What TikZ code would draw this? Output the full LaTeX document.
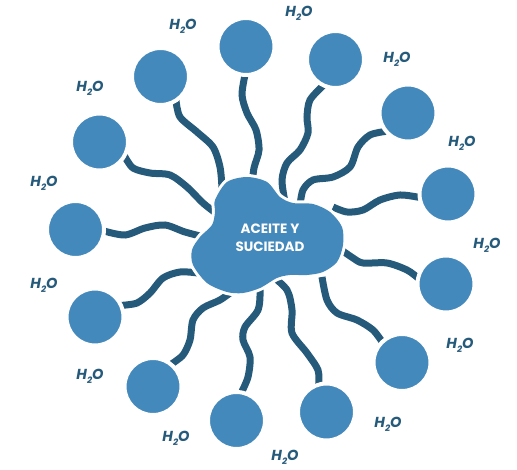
\documentclass[tikz,border=0pt]{standalone}
\usepackage{fontspec}
\setmainfont{Poppins}
\definecolor{bubcol}{HTML}{4489BB}
\definecolor{tailcol}{HTML}{255A7B}
\pgfdeclarelayer{back}
\pgfsetlayers{back,main}
\newcommand{\water}{H\raisebox{-0.5ex}{\fontsize{9}{9}\selectfont 2}O}
\begin{document}
\begin{tikzpicture}[x=1pt,y=-1pt,
  bubble/.style={circle, fill=bubcol, draw=white, line width=4pt, minimum size=57pt, inner sep=0pt, outer sep=0pt},
  tail/.style={draw=tailcol, line width=7pt, line cap=butt},
  water/.style={text=tailcol, inner sep=0pt, font=\fontsize{14.5}{14.5}\selectfont\bfseries\itshape},
  title/.style={text=white, inner sep=0pt, align=center, font=\fontsize{13.5}{18.5}\selectfont\bfseries}]
\useasboundingbox (0,0) rectangle (517,470);
% circles
\node[bubble] (c1) at (246,46.5) {};
\node[bubble] (c2) at (335.5,59.5) {};
\node[bubble] (c3) at (160.5,76.5) {};
\node[bubble] (c4) at (408,113) {};
\node[bubble] (c5) at (99.5,142) {};
\node[bubble] (c6) at (448,194) {};
\node[bubble] (c7) at (75.5,229.5) {};
\node[bubble] (c8) at (446,284) {};
\node[bubble] (c9) at (95,317) {};
\node[bubble] (c10) at (402,362.5) {};
\node[bubble] (c11) at (153,386.5) {};
\node[bubble] (c12) at (326.5,412) {};
\node[bubble] (c13) at (236.5,420.5) {};
% tails
\begin{pgfonlayer}{back}
\draw[tail] plot[smooth] coordinates {(c1.268) (242,95) (247,113) (256,130) (259,150) (254,168) (252,186)};
\draw[tail] plot[smooth] coordinates {(c2.245) (310,100) (307,117) (308,133) (300,150) (287,163) (282,180) (285,202)};
\draw[tail] plot[smooth] coordinates {(c3.303) (180,117) (197,132) (213,147) (220,167) (222,188)};
\draw[tail] plot[smooth] coordinates {(c4.220) (370,135) (358,147) (350,167) (333,177) (313,180) (303,190) (300,206)};
\draw[tail] plot[smooth] coordinates {(c5.331) (133,168) (150,173) (170,175) (187,187) (203,203) (217,214)};
\draw[tail] plot[smooth] coordinates {(c6.187) (400,195) (380,200) (363,210) (347,212) (333,207)};
\draw[tail] plot[smooth] coordinates {(c7.357) (125,235) (145,228) (165,225) (185,232) (208,238)};
\draw[tail] plot[smooth] coordinates {(c8.168) (407,270) (387,263) (363,263) (353,258) (340,249)};
\draw[tail] plot[smooth] coordinates {(c9.24) (137,303) (150,293) (163,278) (180,272) (198,273)};
\draw[tail] plot[smooth] coordinates {(c10.134) (373,330) (357,320) (337,313) (327,300) (322,277)};
\draw[tail] plot[smooth] coordinates {(c11.51) (183,355) (190,340) (193,320) (203,308) (220,300) (234,290)};
\draw[tail] plot[smooth] coordinates {(c12.106) (318,370) (307,353) (292,333) (292,310) (287,290) (271,275)};
\draw[tail] plot[smooth] coordinates {(c13.80) (248,377) (250,357) (243,340) (245,327) (258,310) (260,290) (257,275)};
\end{pgfonlayer}
% blob
\def\blobpath{plot[smooth cycle] coordinates {(215,200) (227,182) (247,177) (267,182) (280,197) (293,203) (313,204) (330,212) (342,227) (343,245) (337,262) (323,272) (307,275) (290,275) (277,278) (260,288) (243,293) (227,292) (207,283) (193,265) (192,250) (200,237) (212,225) (215,212)}}
\draw[white, line width=6pt] \blobpath;
\fill[bubcol] \blobpath;
\node[title] (t) at (270,238) {ACEITE Y\\SUCIEDAD};
% labels
\node[water] (l1) at (183,26) {\water};
\node[water] (l2) at (299,13) {\water};
\node[water] (l3) at (397,59) {\water};
\node[water] (l4) at (90,88) {\water};
\node[water] (l5) at (462,143) {\water};
\node[water] (l6) at (44,183) {\water};
\node[water] (l7) at (487,245) {\water};
\node[water] (l8) at (44,285) {\water};
\node[water] (l9) at (460,345) {\water};
\node[water] (l10) at (90,376) {\water};
\node[water] (l11) at (388,424) {\water};
\node[water] (l12) at (176,438) {\water};
\node[water] (l13) at (285,457) {\water};
\end{tikzpicture}
\end{document}
